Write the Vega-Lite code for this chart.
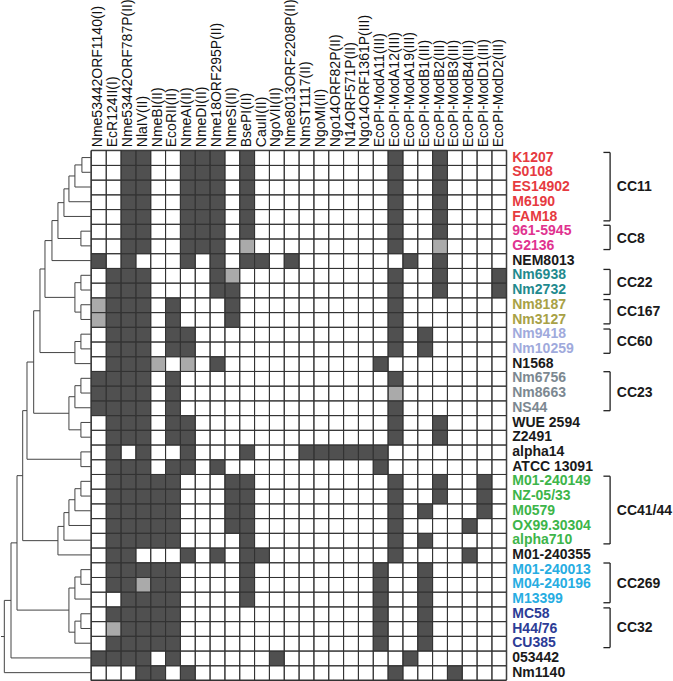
{
  "$schema": "https://vega.github.io/schema/vega-lite/v6.json",
  "width": 673,
  "height": 681,
  "autosize": {"type": "fit", "contains": "padding"},
  "padding": 0,
  "background": "white",
  "config": {"view": {"stroke": null}, "font": "Liberation Sans"},
  "datasets": {
    "columns": [
      {"name": "Nme53442ORF1140(I)", "col": 0},
      {"name": "EcR124II(I)", "col": 1},
      {"name": "Nme53442ORF787P(II)", "col": 2},
      {"name": "NlaIV(II)", "col": 3},
      {"name": "NmeBI(II)", "col": 4},
      {"name": "EcoRII(II)", "col": 5},
      {"name": "NmeAI(II)", "col": 6},
      {"name": "NmeDI(II)", "col": 7},
      {"name": "Nme18ORF295P(II)", "col": 8},
      {"name": "NmeSI(II)", "col": 9},
      {"name": "BsePI(II)", "col": 10},
      {"name": "CauII(II)", "col": 11},
      {"name": "NgoVII(II)", "col": 12},
      {"name": "Nme8013ORF2208P(II)", "col": 13},
      {"name": "NmST1117(II)", "col": 14},
      {"name": "NgoMI(II)", "col": 15},
      {"name": "Ngo14ORF82P(II)", "col": 16},
      {"name": "N14ORF571P(II)", "col": 17},
      {"name": "Ngo14ORF1361P(III)", "col": 18},
      {"name": "EcoPI-ModA11(III)", "col": 19},
      {"name": "EcoPI-ModA12(III)", "col": 20},
      {"name": "EcoPI-ModA19(III)", "col": 21},
      {"name": "EcoPI-ModB1(III)", "col": 22},
      {"name": "EcoPI-ModB2(III)", "col": 23},
      {"name": "EcoPI-ModB3(III)", "col": 24},
      {"name": "EcoPI-ModB4(III)", "col": 25},
      {"name": "EcoPI-ModD1(III)", "col": 26},
      {"name": "EcoPI-ModD2(III)", "col": 27}
    ],
    "strains": [
      {"strain": "K1207", "row": 0, "group": "CC11"},
      {"strain": "S0108", "row": 1, "group": "CC11"},
      {"strain": "ES14902", "row": 2, "group": "CC11"},
      {"strain": "M6190", "row": 3, "group": "CC11"},
      {"strain": "FAM18", "row": 4, "group": "CC11"},
      {"strain": "961-5945", "row": 5, "group": "CC8"},
      {"strain": "G2136", "row": 6, "group": "CC8"},
      {"strain": "NEM8013", "row": 7, "group": "other"},
      {"strain": "Nm6938", "row": 8, "group": "CC22"},
      {"strain": "Nm2732", "row": 9, "group": "CC22"},
      {"strain": "Nm8187", "row": 10, "group": "CC167"},
      {"strain": "Nm3127", "row": 11, "group": "CC167"},
      {"strain": "Nm9418", "row": 12, "group": "CC60"},
      {"strain": "Nm10259", "row": 13, "group": "CC60"},
      {"strain": "N1568", "row": 14, "group": "other"},
      {"strain": "Nm6756", "row": 15, "group": "CC23"},
      {"strain": "Nm8663", "row": 16, "group": "CC23"},
      {"strain": "NS44", "row": 17, "group": "CC23"},
      {"strain": "WUE  2594", "row": 18, "group": "other"},
      {"strain": "Z2491", "row": 19, "group": "other"},
      {"strain": "alpha14", "row": 20, "group": "other"},
      {"strain": "ATCC  13091", "row": 21, "group": "other"},
      {"strain": "M01-240149", "row": 22, "group": "CC41/44"},
      {"strain": "NZ-05/33", "row": 23, "group": "CC41/44"},
      {"strain": "M0579", "row": 24, "group": "CC41/44"},
      {"strain": "OX99.30304", "row": 25, "group": "CC41/44"},
      {"strain": "alpha710", "row": 26, "group": "CC41/44"},
      {"strain": "M01-240355", "row": 27, "group": "other"},
      {"strain": "M01-240013", "row": 28, "group": "CC269"},
      {"strain": "M04-240196", "row": 29, "group": "CC269"},
      {"strain": "M13399", "row": 30, "group": "CC269"},
      {"strain": "MC58", "row": 31, "group": "CC32"},
      {"strain": "H44/76", "row": 32, "group": "CC32"},
      {"strain": "CU385", "row": 33, "group": "CC32"},
      {"strain": "053442", "row": 34, "group": "other"},
      {"strain": "Nm1140", "row": 35, "group": "other"}
    ],
    "cells": [
      {"row":0,"col":2,"state":"present"},{"row":0,"col":3,"state":"present"},{"row":0,"col":6,"state":"present"},{"row":0,"col":7,"state":"present"},{"row":0,"col":8,"state":"present"},{"row":0,"col":10,"state":"present"},{"row":0,"col":20,"state":"present"},{"row":0,"col":23,"state":"present"},
      {"row":1,"col":2,"state":"present"},{"row":1,"col":3,"state":"present"},{"row":1,"col":6,"state":"present"},{"row":1,"col":7,"state":"present"},{"row":1,"col":8,"state":"present"},{"row":1,"col":10,"state":"present"},{"row":1,"col":20,"state":"present"},{"row":1,"col":23,"state":"present"},
      {"row":2,"col":2,"state":"present"},{"row":2,"col":3,"state":"present"},{"row":2,"col":6,"state":"present"},{"row":2,"col":7,"state":"present"},{"row":2,"col":8,"state":"present"},{"row":2,"col":10,"state":"present"},{"row":2,"col":20,"state":"present"},{"row":2,"col":23,"state":"present"},
      {"row":3,"col":2,"state":"present"},{"row":3,"col":3,"state":"present"},{"row":3,"col":6,"state":"present"},{"row":3,"col":7,"state":"present"},{"row":3,"col":8,"state":"present"},{"row":3,"col":10,"state":"present"},{"row":3,"col":20,"state":"present"},{"row":3,"col":23,"state":"present"},
      {"row":4,"col":2,"state":"present"},{"row":4,"col":3,"state":"present"},{"row":4,"col":6,"state":"present"},{"row":4,"col":7,"state":"present"},{"row":4,"col":8,"state":"present"},{"row":4,"col":10,"state":"present"},{"row":4,"col":20,"state":"present"},{"row":4,"col":23,"state":"present"},
      {"row":5,"col":2,"state":"present"},{"row":5,"col":3,"state":"present"},{"row":5,"col":6,"state":"present"},{"row":5,"col":7,"state":"present"},{"row":5,"col":8,"state":"present"},{"row":5,"col":10,"state":"present"},{"row":5,"col":20,"state":"present"},{"row":5,"col":23,"state":"present"},
      {"row":6,"col":2,"state":"present"},{"row":6,"col":3,"state":"present"},{"row":6,"col":6,"state":"present"},{"row":6,"col":7,"state":"present"},{"row":6,"col":8,"state":"present"},{"row":6,"col":10,"state":"partial"},{"row":6,"col":20,"state":"present"},{"row":6,"col":23,"state":"partial"},
      {"row":7,"col":0,"state":"present"},{"row":7,"col":2,"state":"present"},{"row":7,"col":6,"state":"present"},{"row":7,"col":8,"state":"present"},{"row":7,"col":10,"state":"present"},{"row":7,"col":11,"state":"present"},{"row":7,"col":13,"state":"present"},{"row":7,"col":21,"state":"present"},{"row":7,"col":23,"state":"present"},
      {"row":8,"col":1,"state":"present"},{"row":8,"col":2,"state":"present"},{"row":8,"col":3,"state":"present"},{"row":8,"col":8,"state":"present"},{"row":8,"col":9,"state":"partial"},{"row":8,"col":20,"state":"present"},{"row":8,"col":23,"state":"present"},{"row":8,"col":27,"state":"present"},
      {"row":9,"col":1,"state":"present"},{"row":9,"col":2,"state":"present"},{"row":9,"col":3,"state":"present"},{"row":9,"col":8,"state":"present"},{"row":9,"col":9,"state":"present"},{"row":9,"col":20,"state":"present"},{"row":9,"col":23,"state":"present"},{"row":9,"col":27,"state":"present"},
      {"row":10,"col":0,"state":"partial"},{"row":10,"col":1,"state":"present"},{"row":10,"col":2,"state":"present"},{"row":10,"col":3,"state":"present"},{"row":10,"col":5,"state":"present"},{"row":10,"col":9,"state":"present"},{"row":10,"col":20,"state":"present"},
      {"row":11,"col":0,"state":"partial"},{"row":11,"col":1,"state":"present"},{"row":11,"col":2,"state":"present"},{"row":11,"col":3,"state":"present"},{"row":11,"col":5,"state":"present"},{"row":11,"col":9,"state":"present"},{"row":11,"col":20,"state":"present"},
      {"row":12,"col":1,"state":"present"},{"row":12,"col":2,"state":"present"},{"row":12,"col":3,"state":"present"},{"row":12,"col":5,"state":"present"},{"row":12,"col":6,"state":"present"},{"row":12,"col":20,"state":"present"},{"row":12,"col":22,"state":"present"},
      {"row":13,"col":1,"state":"present"},{"row":13,"col":2,"state":"present"},{"row":13,"col":3,"state":"present"},{"row":13,"col":5,"state":"present"},{"row":13,"col":6,"state":"present"},{"row":13,"col":20,"state":"present"},{"row":13,"col":22,"state":"present"},
      {"row":14,"col":1,"state":"present"},{"row":14,"col":2,"state":"present"},{"row":14,"col":3,"state":"present"},{"row":14,"col":4,"state":"partial"},{"row":14,"col":6,"state":"partial"},{"row":14,"col":8,"state":"present"},{"row":14,"col":19,"state":"present"},
      {"row":15,"col":0,"state":"present"},{"row":15,"col":1,"state":"present"},{"row":15,"col":2,"state":"present"},{"row":15,"col":3,"state":"present"},{"row":15,"col":5,"state":"present"},{"row":15,"col":20,"state":"present"},
      {"row":16,"col":0,"state":"present"},{"row":16,"col":1,"state":"present"},{"row":16,"col":2,"state":"present"},{"row":16,"col":3,"state":"present"},{"row":16,"col":5,"state":"present"},{"row":16,"col":20,"state":"partial"},
      {"row":17,"col":0,"state":"present"},{"row":17,"col":1,"state":"present"},{"row":17,"col":2,"state":"present"},{"row":17,"col":3,"state":"present"},{"row":17,"col":5,"state":"present"},{"row":17,"col":20,"state":"present"},
      {"row":18,"col":1,"state":"present"},{"row":18,"col":2,"state":"present"},{"row":18,"col":3,"state":"present"},{"row":18,"col":5,"state":"present"},{"row":18,"col":6,"state":"present"},{"row":18,"col":20,"state":"present"},{"row":18,"col":23,"state":"present"},
      {"row":19,"col":1,"state":"present"},{"row":19,"col":2,"state":"present"},{"row":19,"col":3,"state":"present"},{"row":19,"col":5,"state":"present"},{"row":19,"col":6,"state":"present"},{"row":19,"col":20,"state":"present"},{"row":19,"col":23,"state":"present"},
      {"row":20,"col":1,"state":"present"},{"row":20,"col":3,"state":"present"},{"row":20,"col":6,"state":"present"},{"row":20,"col":10,"state":"present"},{"row":20,"col":14,"state":"present"},{"row":20,"col":15,"state":"present"},{"row":20,"col":16,"state":"present"},{"row":20,"col":17,"state":"present"},{"row":20,"col":18,"state":"present"},{"row":20,"col":19,"state":"present"},
      {"row":21,"col":1,"state":"present"},{"row":21,"col":2,"state":"present"},{"row":21,"col":3,"state":"present"},{"row":21,"col":5,"state":"present"},{"row":21,"col":6,"state":"present"},{"row":21,"col":8,"state":"present"},{"row":21,"col":19,"state":"present"},
      {"row":22,"col":1,"state":"present"},{"row":22,"col":2,"state":"present"},{"row":22,"col":3,"state":"present"},{"row":22,"col":4,"state":"present"},{"row":22,"col":5,"state":"present"},{"row":22,"col":9,"state":"present"},{"row":22,"col":10,"state":"present"},{"row":22,"col":20,"state":"present"},{"row":22,"col":23,"state":"present"},{"row":22,"col":26,"state":"present"},
      {"row":23,"col":1,"state":"present"},{"row":23,"col":2,"state":"present"},{"row":23,"col":3,"state":"present"},{"row":23,"col":4,"state":"present"},{"row":23,"col":5,"state":"present"},{"row":23,"col":9,"state":"present"},{"row":23,"col":10,"state":"present"},{"row":23,"col":20,"state":"present"},{"row":23,"col":23,"state":"present"},{"row":23,"col":26,"state":"present"},
      {"row":24,"col":1,"state":"present"},{"row":24,"col":2,"state":"present"},{"row":24,"col":3,"state":"present"},{"row":24,"col":4,"state":"present"},{"row":24,"col":5,"state":"present"},{"row":24,"col":9,"state":"present"},{"row":24,"col":10,"state":"present"},{"row":24,"col":20,"state":"present"},{"row":24,"col":22,"state":"present"},{"row":24,"col":26,"state":"present"},
      {"row":25,"col":1,"state":"present"},{"row":25,"col":2,"state":"present"},{"row":25,"col":3,"state":"present"},{"row":25,"col":4,"state":"present"},{"row":25,"col":5,"state":"present"},{"row":25,"col":9,"state":"present"},{"row":25,"col":10,"state":"present"},{"row":25,"col":20,"state":"present"},{"row":25,"col":25,"state":"present"},
      {"row":26,"col":1,"state":"present"},{"row":26,"col":2,"state":"present"},{"row":26,"col":3,"state":"present"},{"row":26,"col":4,"state":"present"},{"row":26,"col":5,"state":"present"},{"row":26,"col":10,"state":"present"},{"row":26,"col":20,"state":"present"},{"row":26,"col":22,"state":"present"},
      {"row":27,"col":1,"state":"present"},{"row":27,"col":2,"state":"present"},{"row":27,"col":6,"state":"present"},{"row":27,"col":8,"state":"present"},{"row":27,"col":10,"state":"present"},{"row":27,"col":11,"state":"present"},{"row":27,"col":20,"state":"present"},{"row":27,"col":25,"state":"present"},
      {"row":28,"col":1,"state":"present"},{"row":28,"col":2,"state":"present"},{"row":28,"col":3,"state":"present"},{"row":28,"col":4,"state":"present"},{"row":28,"col":5,"state":"present"},{"row":28,"col":10,"state":"present"},{"row":28,"col":19,"state":"present"},{"row":28,"col":22,"state":"present"},
      {"row":29,"col":1,"state":"present"},{"row":29,"col":2,"state":"present"},{"row":29,"col":3,"state":"partial"},{"row":29,"col":4,"state":"present"},{"row":29,"col":5,"state":"present"},{"row":29,"col":10,"state":"present"},{"row":29,"col":19,"state":"present"},{"row":29,"col":22,"state":"present"},
      {"row":30,"col":2,"state":"present"},{"row":30,"col":3,"state":"present"},{"row":30,"col":4,"state":"present"},{"row":30,"col":5,"state":"present"},{"row":30,"col":10,"state":"present"},{"row":30,"col":19,"state":"present"},{"row":30,"col":22,"state":"present"},
      {"row":31,"col":1,"state":"present"},{"row":31,"col":2,"state":"present"},{"row":31,"col":3,"state":"present"},{"row":31,"col":4,"state":"present"},{"row":31,"col":5,"state":"present"},{"row":31,"col":19,"state":"present"},{"row":31,"col":22,"state":"present"},
      {"row":32,"col":1,"state":"partial"},{"row":32,"col":2,"state":"present"},{"row":32,"col":3,"state":"present"},{"row":32,"col":4,"state":"present"},{"row":32,"col":5,"state":"present"},{"row":32,"col":19,"state":"present"},{"row":32,"col":22,"state":"present"},
      {"row":33,"col":1,"state":"present"},{"row":33,"col":2,"state":"present"},{"row":33,"col":3,"state":"present"},{"row":33,"col":4,"state":"present"},{"row":33,"col":5,"state":"present"},{"row":33,"col":19,"state":"present"},{"row":33,"col":22,"state":"present"},
      {"row":34,"col":0,"state":"present"},{"row":34,"col":1,"state":"present"},{"row":34,"col":2,"state":"present"},{"row":34,"col":3,"state":"present"},{"row":34,"col":5,"state":"present"},{"row":34,"col":12,"state":"present"},{"row":34,"col":21,"state":"present"},
      {"row":35,"col":3,"state":"present"},{"row":35,"col":4,"state":"present"},{"row":35,"col":6,"state":"present"},{"row":35,"col":20,"state":"present"},{"row":35,"col":24,"state":"present"}
    ],
    "dendroV": [
      {"x": -0.606, "ya": 0.5, "yb": 1.5},
      {"x": -1.077, "ya": 1.0, "yb": 2.5},
      {"x": -1.481, "ya": 1.75, "yb": 3.5},
      {"x": -1.817, "ya": 2.625, "yb": 4.5},
      {"x": -0.673, "ya": 5.5, "yb": 6.5},
      {"x": -2.221, "ya": 3.5625, "yb": 6.0},
      {"x": -2.625, "ya": 4.781, "yb": 7.5},
      {"x": -0.673, "ya": 8.5, "yb": 9.5},
      {"x": -0.673, "ya": 10.5, "yb": 11.5},
      {"x": -1.077, "ya": 9.0, "yb": 11.0},
      {"x": -3.096, "ya": 6.141, "yb": 10.0},
      {"x": -0.673, "ya": 12.5, "yb": 13.5},
      {"x": -1.077, "ya": 13.0, "yb": 14.5},
      {"x": -3.433, "ya": 8.070, "yb": 13.75},
      {"x": -0.673, "ya": 15.5, "yb": 16.5},
      {"x": -1.077, "ya": 16.0, "yb": 17.5},
      {"x": -0.673, "ya": 18.5, "yb": 19.5},
      {"x": -1.481, "ya": 16.75, "yb": 19.0},
      {"x": -3.857, "ya": 10.910, "yb": 17.875},
      {"x": -0.673, "ya": 20.5, "yb": 21.5},
      {"x": -4.308, "ya": 14.393, "yb": 21.0},
      {"x": -0.673, "ya": 22.5, "yb": 23.5},
      {"x": -1.077, "ya": 23.0, "yb": 24.5},
      {"x": -1.481, "ya": 23.75, "yb": 25.5},
      {"x": -1.817, "ya": 24.625, "yb": 26.5},
      {"x": -2.221, "ya": 25.563, "yb": 27.5},
      {"x": -4.597, "ya": 17.696, "yb": 26.531},
      {"x": -0.673, "ya": 28.5, "yb": 29.5},
      {"x": -1.077, "ya": 29.0, "yb": 30.5},
      {"x": -0.673, "ya": 31.5, "yb": 32.5},
      {"x": -1.077, "ya": 32.0, "yb": 33.5},
      {"x": -1.481, "ya": 29.75, "yb": 32.75},
      {"x": -4.981, "ya": 22.114, "yb": 31.25},
      {"x": -5.385, "ya": 26.682, "yb": 34.5},
      {"x": -5.836, "ya": 30.591, "yb": 35.5}
    ],
    "dendroH": [
      {"xa": 0, "xb": -0.606, "y": 0.5},
      {"xa": 0, "xb": -0.606, "y": 1.5},
      {"xa": 0, "xb": -1.077, "y": 2.5},
      {"xa": 0, "xb": -1.481, "y": 3.5},
      {"xa": 0, "xb": -1.817, "y": 4.5},
      {"xa": 0, "xb": -0.673, "y": 5.5},
      {"xa": 0, "xb": -0.673, "y": 6.5},
      {"xa": 0, "xb": -2.625, "y": 7.5},
      {"xa": 0, "xb": -0.673, "y": 8.5},
      {"xa": 0, "xb": -0.673, "y": 9.5},
      {"xa": 0, "xb": -0.673, "y": 10.5},
      {"xa": 0, "xb": -0.673, "y": 11.5},
      {"xa": 0, "xb": -0.673, "y": 12.5},
      {"xa": 0, "xb": -0.673, "y": 13.5},
      {"xa": 0, "xb": -1.077, "y": 14.5},
      {"xa": 0, "xb": -0.673, "y": 15.5},
      {"xa": 0, "xb": -0.673, "y": 16.5},
      {"xa": 0, "xb": -1.077, "y": 17.5},
      {"xa": 0, "xb": -0.673, "y": 18.5},
      {"xa": 0, "xb": -0.673, "y": 19.5},
      {"xa": 0, "xb": -0.673, "y": 20.5},
      {"xa": 0, "xb": -0.673, "y": 21.5},
      {"xa": 0, "xb": -0.673, "y": 22.5},
      {"xa": 0, "xb": -0.673, "y": 23.5},
      {"xa": 0, "xb": -1.077, "y": 24.5},
      {"xa": 0, "xb": -1.481, "y": 25.5},
      {"xa": 0, "xb": -1.817, "y": 26.5},
      {"xa": 0, "xb": -2.221, "y": 27.5},
      {"xa": 0, "xb": -0.673, "y": 28.5},
      {"xa": 0, "xb": -0.673, "y": 29.5},
      {"xa": 0, "xb": -1.077, "y": 30.5},
      {"xa": 0, "xb": -0.673, "y": 31.5},
      {"xa": 0, "xb": -0.673, "y": 32.5},
      {"xa": 0, "xb": -1.077, "y": 33.5},
      {"xa": 0, "xb": -5.385, "y": 34.5},
      {"xa": 0, "xb": -5.836, "y": 35.5},
      {"xa": -0.606, "xb": -1.077, "y": 1.0},
      {"xa": -1.077, "xb": -1.481, "y": 1.75},
      {"xa": -1.481, "xb": -1.817, "y": 2.625},
      {"xa": -1.817, "xb": -2.221, "y": 3.5625},
      {"xa": -0.673, "xb": -2.221, "y": 6.0},
      {"xa": -2.221, "xb": -2.625, "y": 4.781},
      {"xa": -2.625, "xb": -3.096, "y": 6.141},
      {"xa": -0.673, "xb": -1.077, "y": 9.0},
      {"xa": -0.673, "xb": -1.077, "y": 11.0},
      {"xa": -1.077, "xb": -3.096, "y": 10.0},
      {"xa": -3.096, "xb": -3.433, "y": 8.070},
      {"xa": -0.673, "xb": -1.077, "y": 13.0},
      {"xa": -1.077, "xb": -3.433, "y": 13.75},
      {"xa": -3.433, "xb": -3.857, "y": 10.910},
      {"xa": -0.673, "xb": -1.077, "y": 16.0},
      {"xa": -1.077, "xb": -1.481, "y": 16.75},
      {"xa": -0.673, "xb": -1.481, "y": 19.0},
      {"xa": -1.481, "xb": -3.857, "y": 17.875},
      {"xa": -3.857, "xb": -4.308, "y": 14.393},
      {"xa": -0.673, "xb": -4.308, "y": 21.0},
      {"xa": -4.308, "xb": -4.597, "y": 17.696},
      {"xa": -0.673, "xb": -1.077, "y": 23.0},
      {"xa": -1.077, "xb": -1.481, "y": 23.75},
      {"xa": -1.481, "xb": -1.817, "y": 24.625},
      {"xa": -1.817, "xb": -2.221, "y": 25.563},
      {"xa": -2.221, "xb": -4.597, "y": 26.531},
      {"xa": -4.597, "xb": -4.981, "y": 22.114},
      {"xa": -0.673, "xb": -1.077, "y": 29.0},
      {"xa": -1.077, "xb": -1.481, "y": 29.75},
      {"xa": -0.673, "xb": -1.077, "y": 32.0},
      {"xa": -1.077, "xb": -1.481, "y": 32.75},
      {"xa": -1.481, "xb": -4.981, "y": 31.25},
      {"xa": -4.981, "xb": -5.385, "y": 26.682},
      {"xa": -5.385, "xb": -5.836, "y": 30.591},
      {"xa": -5.836, "xb": -6.06, "y": 33.046}
    ],
    "brackets": [
      {"group": "CC11", "ya": 0.15, "yb": 4.8, "mid": 2.5},
      {"group": "CC8", "ya": 5.1, "yb": 6.75, "mid": 6.0},
      {"group": "CC22", "ya": 8.1, "yb": 9.8, "mid": 9.0},
      {"group": "CC167", "ya": 10.15, "yb": 11.8, "mid": 11.0},
      {"group": "CC60", "ya": 12.15, "yb": 13.8, "mid": 13.0},
      {"group": "CC23", "ya": 15.05, "yb": 17.7, "mid": 16.5},
      {"group": "CC41/44", "ya": 22.15, "yb": 26.75, "mid": 24.5},
      {"group": "CC269", "ya": 28.05, "yb": 30.75, "mid": 29.5},
      {"group": "CC32", "ya": 31.1, "yb": 33.8, "mid": 32.5}
    ]
  },
  "layer": [
    {
      "data": {"name": "cells"},
      "mark": {"type": "rect"},
      "encoding": {
        "x": {"field": "col", "type": "quantitative", "bin": {"binned": true, "step": 1}, "scale": {"domain": [-6.06, 39.24], "nice": false, "zero": false}, "axis": null},
        "y": {"field": "row", "type": "quantitative", "bin": {"binned": true, "step": 1}, "scale": {"domain": [-9.8, 36], "nice": false, "zero": false, "reverse": true}, "axis": null},
        "fill": {"field": "state", "type": "nominal", "scale": {"domain": ["present", "partial"], "range": ["#505050", "#aaaaaa"]}, "legend": null}
      }
    },
    {
      "data": {"name": "columns"},
      "mark": {"type": "rect", "fill": "white", "fillOpacity": 0, "stroke": "#333333", "strokeWidth": 1},
      "encoding": {
        "x": {"field": "col", "type": "quantitative", "bin": {"binned": true, "step": 1}},
        "y": {"datum": 0, "type": "quantitative"},
        "y2": {"datum": 36}
      }
    },
    {
      "data": {"name": "strains"},
      "mark": {"type": "rect", "fill": "white", "fillOpacity": 0, "stroke": "#333333", "strokeWidth": 1},
      "encoding": {
        "x": {"datum": 0, "type": "quantitative"},
        "x2": {"datum": 28},
        "y": {"field": "row", "type": "quantitative", "bin": {"binned": true, "step": 1}}
      }
    },
    {
      "data": {"name": "strains"},
      "mark": {"type": "text", "align": "left", "baseline": "middle", "dx": 6, "dy": 7.44, "fontSize": 14, "fontWeight": "bold", "font": "Liberation Sans"},
      "encoding": {
        "x": {"datum": 28, "type": "quantitative"},
        "y": {"field": "row", "type": "quantitative"},
        "text": {"field": "strain"},
        "color": {"field": "group", "type": "nominal", "scale": {"domain": ["CC11", "CC8", "other", "CC22", "CC167", "CC60", "CC23", "CC41/44", "CC269", "CC32"], "range": ["#e63a3f", "#e0338f", "#1a1a1a", "#1f8a8e", "#a8a146", "#9faadc", "#7c8891", "#3db54a", "#27ade2", "#2c3c96"]}, "legend": null}
      }
    },
    {
      "data": {"name": "columns"},
      "mark": {"type": "text", "angle": 270, "align": "left", "baseline": "middle", "dx": 3, "dy": 7.43, "fontSize": 14, "font": "Liberation Sans", "color": "#111111"},
      "encoding": {
        "x": {"field": "col", "type": "quantitative"},
        "y": {"datum": 0, "type": "quantitative"},
        "text": {"field": "name"}
      }
    },
    {
      "data": {"name": "dendroV"},
      "mark": {"type": "rule", "color": "#444444", "strokeWidth": 1},
      "encoding": {
        "x": {"field": "x", "type": "quantitative"},
        "y": {"field": "ya", "type": "quantitative"},
        "y2": {"field": "yb"}
      }
    },
    {
      "data": {"name": "dendroH"},
      "mark": {"type": "rule", "color": "#444444", "strokeWidth": 1},
      "encoding": {
        "x": {"field": "xa", "type": "quantitative"},
        "x2": {"field": "xb"},
        "y": {"field": "y", "type": "quantitative"}
      }
    },
    {
      "data": {"name": "brackets"},
      "mark": {"type": "rule", "color": "#222222", "strokeWidth": 1.3},
      "encoding": {
        "x": {"datum": 35.0, "type": "quantitative"},
        "y": {"field": "ya", "type": "quantitative"},
        "y2": {"field": "yb"}
      }
    },
    {
      "data": {"name": "brackets"},
      "mark": {"type": "rule", "color": "#222222", "strokeWidth": 1.3},
      "encoding": {
        "x": {"datum": 34.55, "type": "quantitative"},
        "x2": {"datum": 35.0},
        "y": {"field": "ya", "type": "quantitative"}
      }
    },
    {
      "data": {"name": "brackets"},
      "mark": {"type": "rule", "color": "#222222", "strokeWidth": 1.3},
      "encoding": {
        "x": {"datum": 34.55, "type": "quantitative"},
        "x2": {"datum": 35.0},
        "y": {"field": "yb", "type": "quantitative"}
      }
    },
    {
      "data": {"name": "brackets"},
      "mark": {"type": "text", "align": "left", "baseline": "middle", "fontSize": 14, "fontWeight": "bold", "font": "Liberation Sans", "color": "#1a1a1a"},
      "encoding": {
        "x": {"datum": 35.45, "type": "quantitative"},
        "y": {"field": "mid", "type": "quantitative"},
        "text": {"field": "group"}
      }
    }
  ]
}
